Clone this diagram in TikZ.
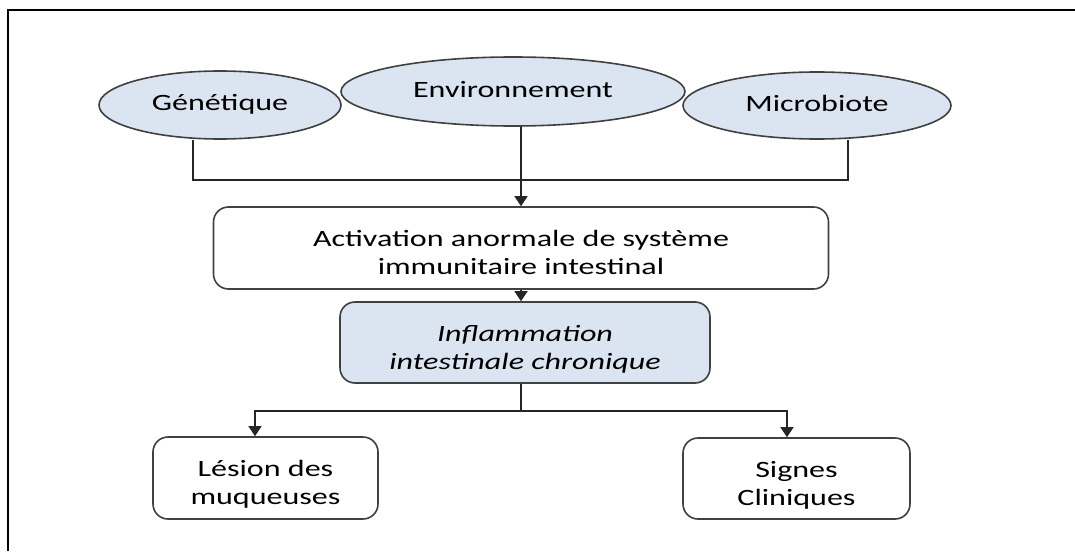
\documentclass[tikz,border=0pt]{standalone}
\usepackage{fontspec}
\setmainfont{Carlito}
\usepackage{graphicx}
\usetikzlibrary{shapes.geometric,arrows.meta,calc}
\pgfdeclarelayer{bg}\pgfsetlayers{bg,main}
\definecolor{fillblue}{HTML}{DBE5F1}
\definecolor{edgegrey}{HTML}{404040}
\newcommand{\sx}[1]{\scalebox{1.37}[1]{\begin{tabular}{@{}c@{}}#1\end{tabular}}}
\newcommand{\bx}[1]{\raisebox{0pt}[\dimexpr\height+7pt\relax][\depth]{\sx{#1}}}
\begin{document}
\begin{tikzpicture}[x=0.5pt,y=-0.5pt,
  every node/.style={font=\fontsize{11.7}{14}\selectfont, inner sep=0pt, text=black},
  oval/.style={ellipse, draw=edgegrey, line width=0.8pt, fill=fillblue},
  boxw/.style={rectangle, rounded corners=7.5pt, draw=edgegrey, line width=0.8pt, fill=white},
  boxb/.style={boxw, fill=fillblue},
  link/.style={draw=black!85, line width=0.75pt},
  arr/.style={link, -{Triangle[width=6.5pt,length=5pt]}}]
\useasboundingbox (0,0) rectangle (1075,551);
\draw[line width=1.3pt] (8,551) -- (8,10) -- (1075,10);

\node[oval, minimum width=121pt, minimum height=34pt] (gen) at (220,105) {\sx{Génétique}};
\node[oval, minimum width=172pt, minimum height=34.5pt] (env) at (513,91.5) {\sx{Environnement}};
\node[oval, minimum width=134pt, minimum height=33.5pt] (mic) at (817,105.5) {\sx{Microbiote}};
\node[boxw, minimum width=307.5pt, minimum height=41pt] (act) at (521,248) {\bx{Activation anormale de système\\immunitaire intestinal}};
\node[boxb, minimum width=185pt, minimum height=40.5pt] (inf) at (525,342.5) {\bx{\itshape Inflammation\\\itshape intestinale chronique}};
\node[boxw, minimum width=112.5pt, minimum height=41pt] (les) at (265.5,478) {\bx{Lésion des\\muqueuses}};
\node[boxw, minimum width=113.5pt, minimum height=40.5pt] (sig) at (796.5,478.5) {\bx{Signes\\Cliniques}};

\coordinate (j1) at (193,180);
\coordinate (j2) at (848,180);
\coordinate (b1) at (255,411);
\coordinate (b2) at (787,411);
\begin{pgfonlayer}{bg}
\draw[link] (j1 |- gen.south) -- (j1) -- (j2) -- (j2 |- mic.south);
\end{pgfonlayer}
\draw[arr] (env.south -| act.north) -- (act.north);
\draw[arr] (act.south) -- (act.south |- inf.north);
\draw[link] (inf.south -| act.south) -- (act.south |- b1);
\draw[arr] (act.south |- b1) -- (b1) -- (b1 |- les.north);
\draw[arr] (act.south |- b2) -- (b2) -- (b2 |- sig.north);
\end{tikzpicture}
\end{document}
